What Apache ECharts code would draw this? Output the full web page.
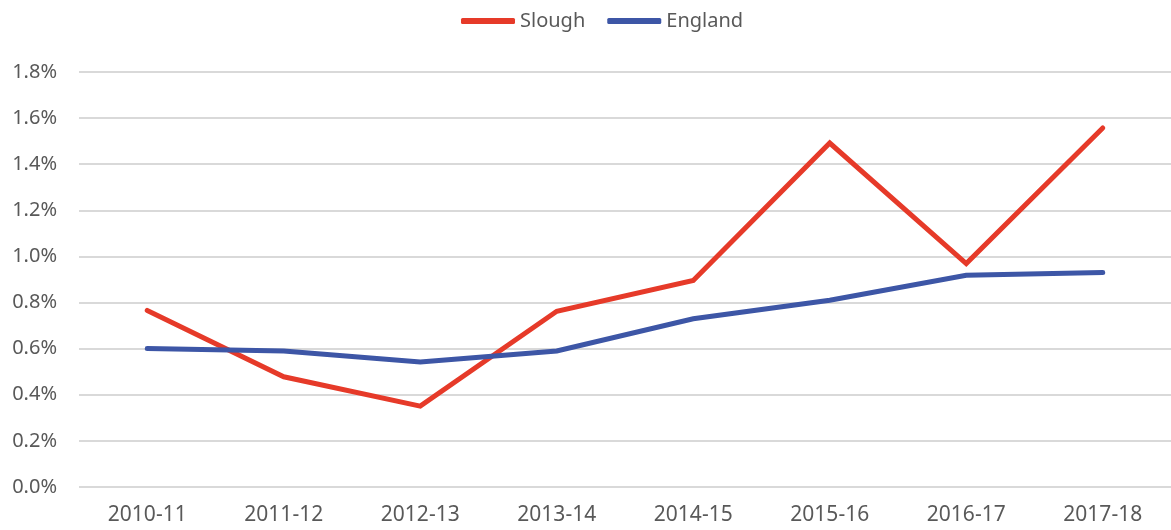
<!DOCTYPE html>
<html>
<head>
<meta charset="utf-8">
<script src="https://cdn.jsdelivr.net/npm/echarts@6/dist/echarts.min.js"></script>
<style>
  html, body { margin: 0; padding: 0; background: #fff; }
  #chart { width: 1171px; height: 530px; }
</style>
</head>
<body>
<div id="chart"></div>
<script>
var years = ['2010-11', '2011-12', '2012-13', '2013-14', '2014-15', '2015-16', '2016-17', '2017-18'];
var slough = [0.766, 0.478, 0.351, 0.762, 0.896, 1.492, 0.969, 1.557];
var england = [0.601, 0.590, 0.542, 0.590, 0.730, 0.810, 0.918, 0.930];

var textColor = '#595959';
var font = 'Noto Sans';

var myChart = echarts.init(document.getElementById('chart'));
var option = {
  animation: false,
  legend: {
    left: 456,
    top: 6,
    icon: 'roundRect',
    itemWidth: 54,
    itemHeight: 6,
    itemGap: 22,
    textStyle: { color: textColor, fontSize: 20, fontFamily: font },
    data: ['Slough', 'England']
  },
  grid: {
    left: 79,
    right: 0,
    top: 72,
    bottom: 43
  },
  xAxis: {
    type: 'category',
    data: years,
    boundaryGap: true,
    axisLine: { show: false },
    axisTick: { show: false },
    axisLabel: { color: textColor, fontSize: 21, fontFamily: font, margin: 18 }
  },
  yAxis: {
    type: 'value',
    min: 0,
    max: 1.8,
    interval: 0.2,
    axisLine: { show: false },
    axisTick: { show: false },
    splitLine: { lineStyle: { color: '#d9d9d9', width: 2 } },
    axisLabel: {
      color: textColor, fontSize: 20, fontFamily: font, margin: 22,
      formatter: function (v) { return v.toFixed(1) + '%'; }
    }
  },
  series: [
    {
      name: 'Slough',
      type: 'line',
      data: slough,
      showSymbol: false,
      symbol: 'none',
      color: '#e63a29',
      lineStyle: { width: 5, cap: 'round', join: 'miter' }
    },
    {
      name: 'England',
      type: 'line',
      data: england,
      showSymbol: false,
      symbol: 'none',
      color: '#3d56a6',
      lineStyle: { width: 5, cap: 'round', join: 'miter' }
    }
  ]
};
myChart.setOption(option);
</script>
</body>
</html>
